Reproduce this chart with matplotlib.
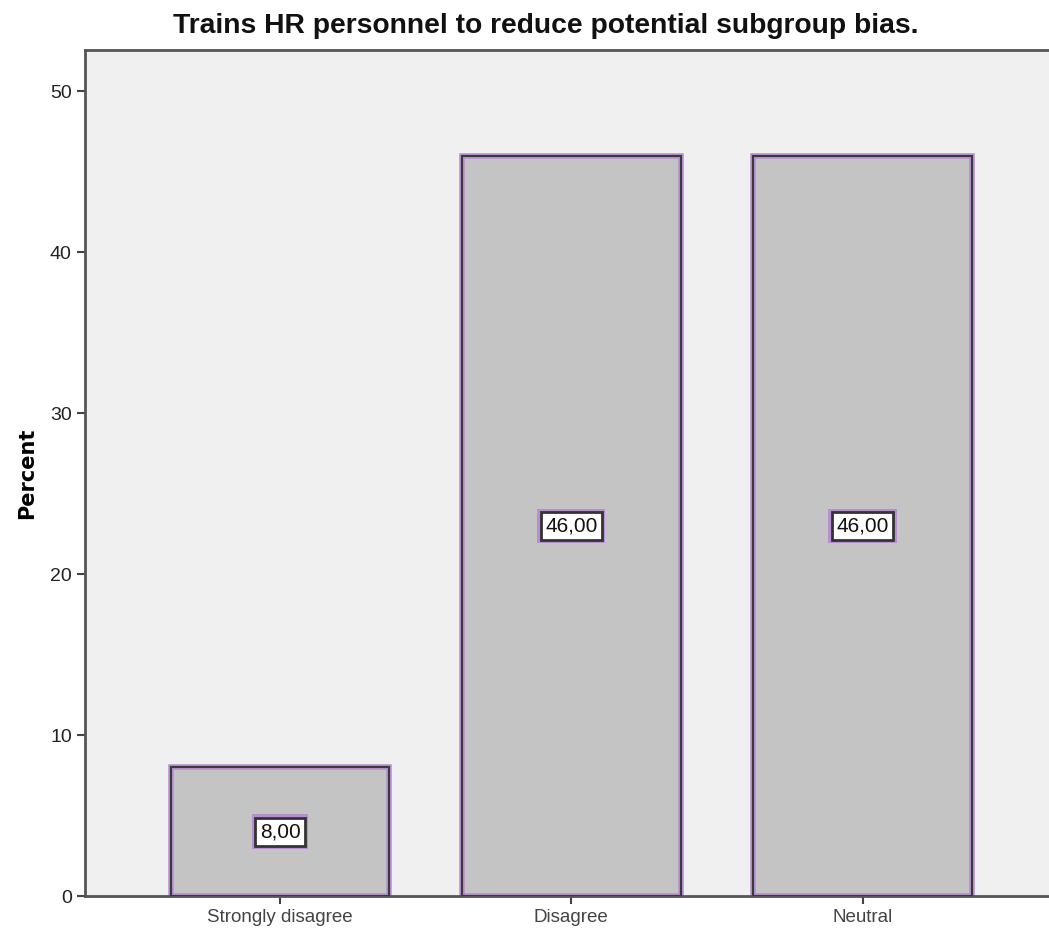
import numpy as np
import matplotlib
matplotlib.use('Agg')
import matplotlib.pyplot as plt

plt.rcParams['font.family'] = ['Liberation Sans Narrow', 'Liberation Sans', 'DejaVu Sans']

categories = ['Strongly disagree', 'Disagree', 'Neutral']
percent = [8.00, 46.00, 46.00]
yticks = [0, 10, 20, 30, 40, 50]

fig = plt.figure(figsize=(10.49, 9.42), dpi=100)
ax = fig.add_axes([0.081, 0.0488, 0.919, 0.8985])
ax.set_facecolor('#f0f0f0')

x = np.arange(len(categories))
ax.bar(x, percent, width=0.75, color='#c4c4c4', edgecolor='#b58fd0', linewidth=4, zorder=2)
ax.bar(x, percent, width=0.75, color='none', edgecolor='#3a3a3a', linewidth=1.5, zorder=3)

for xi, v in zip(x, percent):
    lbl = f'{v:.2f}'.replace('.', ',')
    # purple halo behind the label box
    ax.text(xi, v / 2, lbl, ha='center', va='center', fontsize=15, color='none', zorder=4,
            bbox=dict(boxstyle='square,pad=0.38', fc='#b58fd0', ec='none'))
    ax.text(xi, v / 2, lbl, ha='center', va='center', fontsize=15, color='#111111', zorder=5,
            bbox=dict(boxstyle='square,pad=0.22', fc='white', ec='#333333', lw=2))

ax.set_xlim(-0.67, 2.64)
ax.set_ylim(0, 52.6)
ax.set_yticks(yticks)
ax.set_xticks(x)
ax.set_xticklabels(categories, fontsize=13.5, color='#222222')
ax.tick_params(axis='y', labelsize=14, length=6, width=1.5, colors='#444444', labelcolor='#222222')
ax.tick_params(axis='x', length=6, width=1.5, colors='#444444')

for s in ['left', 'bottom', 'top']:
    ax.spines[s].set_color('#555555')
    ax.spines[s].set_linewidth(2)
ax.spines['right'].set_visible(False)

ax.set_ylabel('Percent', fontsize=15, fontweight='bold', family='DejaVu Sans', labelpad=9)
ax.set_title('Trains HR personnel to reduce potential subgroup bias.', fontsize=20.3,
             fontweight='bold', pad=12, color='#111111', x=0.478)

fig.savefig('out.png', dpi=100)
